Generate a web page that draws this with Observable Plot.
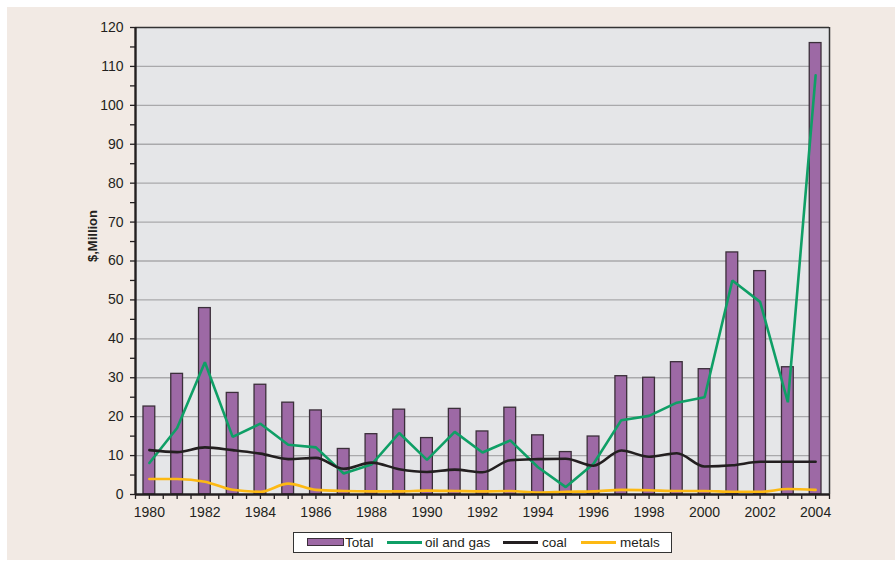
<!DOCTYPE html>
<html>
<head>
<meta charset="utf-8">
<script src="https://cdn.jsdelivr.net/npm/d3@7"></script>
<script src="https://cdn.jsdelivr.net/npm/@observablehq/plot@0.6"></script>
<style>
  html, body { margin: 0; padding: 0; background: #ffffff; }
  #wrap { position: relative; width: 895px; height: 561px; overflow: hidden; font-family: "Liberation Sans", Arial, sans-serif; }
  #bg { position: absolute; left: 7px; top: 7px; width: 888px; height: 553px; background: #f2eae4; }
  #chart { position: absolute; left: 0; top: 0; }
  #legend { position: absolute; left: 293px; top: 532px; width: 379px; height: 21px; box-sizing: border-box;
            background: #ffffff; border: 1px solid #333; font-size: 13.5px; color: #231f20; }
  #legend .it { position: absolute; top: 2px; line-height: 15px; }
  #legend .sw { position: absolute; }
</style>
</head>
<body>
<div id="wrap">
  <div id="bg"></div>
  <div id="chart"></div>
  <div id="legend"></div>
</div>
<script>
const years = [1980,1981,1982,1983,1984,1985,1986,1987,1988,1989,1990,1991,1992,1993,1994,1995,1996,1997,1998,1999,2000,2001,2002,2003,2004];
const total = [22.6,31.0,47.9,26.1,28.2,23.6,21.6,11.7,15.5,21.8,14.5,22.0,16.2,22.3,15.2,10.9,14.9,30.4,30.0,34.0,32.2,62.2,57.4,32.7,116.0];
const oilGas = [8.1,17.1,34.0,14.8,18.2,12.8,12.1,5.4,7.7,15.8,8.9,16.1,10.8,13.9,7.0,1.9,7.9,19.1,20.2,23.6,25.0,55.0,49.5,23.7,107.7];
const coal = [11.4,10.9,12.1,11.4,10.5,9.1,9.4,6.6,8.2,6.5,5.8,6.4,5.7,8.8,9.1,9.2,7.4,11.3,9.7,10.6,7.2,7.5,8.4,8.4,8.4];
const metals = [4.0,4.0,3.3,1.2,0.7,2.8,1.2,0.9,0.8,0.8,1.0,0.9,0.8,0.9,0.5,0.7,0.8,1.2,1.1,0.9,0.9,0.7,0.7,1.4,1.2];
const yTicks = [0,10,20,30,40,50,60,70,80,90,100,110,120];
const xLabelYears = [1980,1982,1984,1986,1988,1990,1992,1994,1996,1998,2000,2002,2004];
const yLabel = "$,Million";

const seriesNames = ["Total", "oil and gas", "coal", "metals"];
const colors = {"Total": "#9d69a5", "oil and gas": "#0f9f66", "coal": "#231f20", "metals": "#fdb913"};

const rows = years.map((yr, i) => ({year: yr, total: total[i], oilGas: oilGas[i], coal: coal[i], metals: metals[i]}));

const halfTicks = d3.range(years[0] - 0.5, years[years.length - 1] + 0.51, 0.5);
const minorY = d3.range(5, 120, 10);

const chart = Plot.plot({
  width: 895,
  height: 527,
  marginLeft: 135,
  marginRight: 66,
  marginTop: 27,
  marginBottom: 33,
  style: {background: "none", fontFamily: "'Liberation Sans', Arial, sans-serif", fontSize: "14px", color: "#231f20"},
  x: {type: "linear", domain: [years[0] - 0.5, years[years.length - 1] + 0.5]},
  y: {type: "linear", domain: [0, 120]},
  marks: [
    Plot.frame({fill: "#e5e6e8", stroke: null}),
    Plot.gridY(yTicks.filter(t => t > 0 && t < 120), {stroke: "#a9a9ab", strokeOpacity: 1, strokeWidth: 1.3}),
    Plot.rectY(rows, {x1: d => d.year - 0.5, x2: d => d.year + 0.5, y1: 0, y2: "total", insetLeft: 8, insetRight: 8,
      fill: colors["Total"], stroke: "#3b2f3a", strokeWidth: 1.3}),
    Plot.line(rows, {x: "year", y: "oilGas", stroke: colors["oil and gas"], strokeWidth: 2.6, strokeLinejoin: "miter"}),
    Plot.line(rows, {x: "year", y: "coal", stroke: colors["coal"], strokeWidth: 2.6, curve: "monotone-x"}),
    Plot.line(rows, {x: "year", y: "metals", stroke: colors["metals"], strokeWidth: 2.6, curve: "monotone-x"}),
    Plot.ruleY([120], {stroke: "#333", strokeWidth: 1.3}),
    Plot.ruleX([years[years.length - 1] + 0.5], {stroke: "#333", strokeWidth: 1.5}),
    Plot.ruleX([years[0] - 0.5], {stroke: "#231f20", strokeWidth: 2.4}),
    Plot.ruleY([0], {stroke: "#231f20", strokeWidth: 2.4}),
    Plot.axisY({ticks: yTicks, tickSize: 5, tickPadding: 7, tickFormat: d => String(d), label: null, stroke: "#231f20", strokeWidth: 1.3, fill: "#231f20", fontSize: 14}),
    Plot.axisY({ticks: minorY, tickSize: 5, tickFormat: () => "", label: null, stroke: "#231f20", strokeWidth: 1.3}),
    Plot.axisX({ticks: halfTicks, tickSize: 5, tickFormat: () => "", label: null, stroke: "#231f20", strokeWidth: 1.3}),
    Plot.axisX({ticks: xLabelYears, tickSize: 0, tickPadding: 13, tickFormat: d => String(d), label: null, fill: "#231f20", fontSize: 14}),
    Plot.text([yLabel], {frameAnchor: "left", dx: -43, dy: 1, rotate: -90, text: d => d, fontWeight: "bold", fontSize: 13, fill: "#231f20"})
  ]
});
document.getElementById("chart").appendChild(chart);

const legend = document.getElementById("legend");
const layout = [
  {name: seriesNames[0], sx: 13, sw: 35, tx: 51, kind: "box"},
  {name: seriesNames[1], sx: 93, sw: 35, tx: 131, kind: "line"},
  {name: seriesNames[2], sx: 209, sw: 35, tx: 248, kind: "line"},
  {name: seriesNames[3], sx: 287, sw: 35, tx: 326, kind: "line"}
];
for (const it of layout) {
  const sw = document.createElement("div");
  sw.className = "sw";
  sw.style.left = it.sx + "px";
  sw.style.width = it.sw + "px";
  if (it.kind === "box") {
    sw.style.top = "5px"; sw.style.height = "6px";
    sw.style.background = colors[it.name]; sw.style.border = "1.3px solid #3b2f3a";
  } else {
    sw.style.top = "8px"; sw.style.height = "2.5px";
    sw.style.background = colors[it.name];
  }
  legend.appendChild(sw);
  const t = document.createElement("div");
  t.className = "it";
  t.style.left = it.tx + "px";
  t.textContent = it.name;
  legend.appendChild(t);
}
</script>
</body>
</html>
